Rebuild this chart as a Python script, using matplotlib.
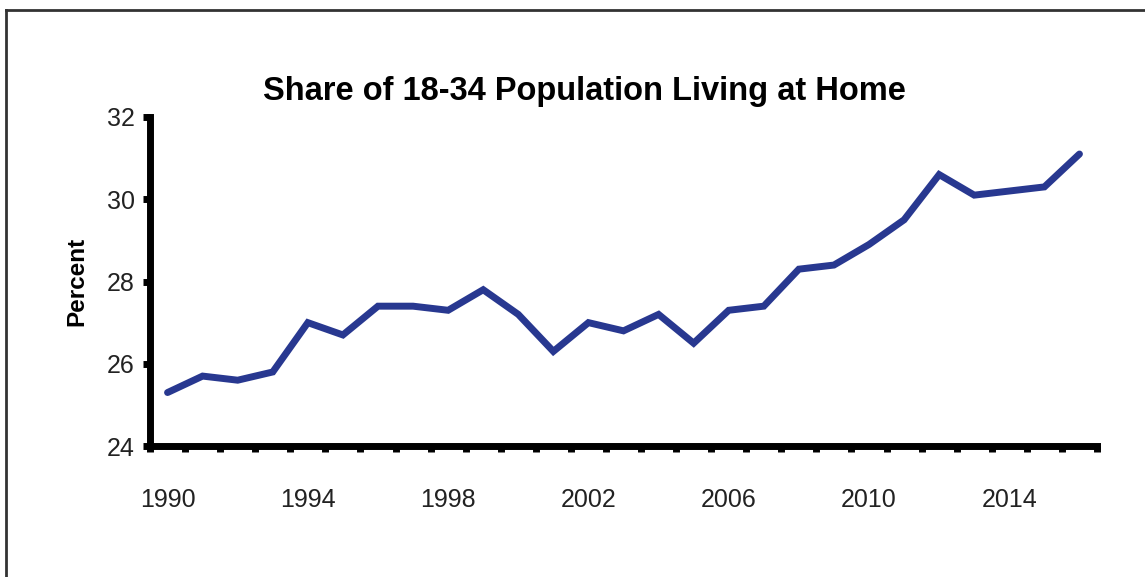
import matplotlib
matplotlib.use('Agg')
import matplotlib.pyplot as plt
import numpy as np
from matplotlib.lines import Line2D

plt.rcParams['font.family'] = ['Liberation Sans', 'DejaVu Sans']

YEARS = list(range(1990, 2017))
SHARE = [25.3, 25.7, 25.6, 25.8, 27.0, 26.7, 27.4, 27.4, 27.3, 27.8,
         27.2, 26.3, 27.0, 26.8, 27.2, 26.5, 27.3, 27.4, 28.3, 28.4,
         28.9, 29.5, 30.6, 30.1, 30.2, 30.3, 31.1]
XLABELS = [1990, 1994, 1998, 2002, 2006, 2010, 2014]
YTICKS = [24, 26, 28, 30, 32]

fig = plt.figure(figsize=(11.45, 5.77), dpi=100)
ax = fig.add_axes([150 / 1145, 1 - 446 / 577, (1097 - 150) / 1145, (446 - 117) / 577])

ax.plot(YEARS, SHARE, color='#283890', linewidth=5, solid_capstyle='round', solid_joinstyle='miter')

ax.set_xlim(1989.5, 2016.5)
ax.set_ylim(24, 32)
ax.set_yticks(YTICKS)
ax.set_xticks(XLABELS)
ax.set_xticklabels([str(y) for y in XLABELS])
ax.set_xticks(np.arange(1989.5, 2017, 1), minor=True)

for s in ['top', 'right']:
    ax.spines[s].set_visible(False)
for s in ['left', 'bottom']:
    ax.spines[s].set_linewidth(5)
    ax.spines[s].set_color('black')

ax.tick_params(axis='x', which='major', length=0, pad=30, labelsize=18, labelcolor='#222222')
ax.tick_params(axis='x', which='minor', length=4, width=5, direction='out')
ax.tick_params(axis='y', which='major', length=5, width=5, direction='out', pad=6, labelsize=18,
               labelcolor='#222222')

ax.set_ylabel('Percent', fontsize=17.5, fontweight='bold', labelpad=13)

fig.text(584 / 1145, 1 - 100 / 577, 'Share of 18-34 Population Living at Home',
         ha='center', va='baseline', fontsize=23.5, fontweight='bold')

# outer frame (left and top edges)
fig.add_artist(Line2D([6 / 1145, 6 / 1145], [0, 1 - 10 / 577], transform=fig.transFigure, color='#333333', linewidth=2))
fig.add_artist(Line2D([6 / 1145, 1], [1 - 10 / 577, 1 - 10 / 577], transform=fig.transFigure, color='#333333', linewidth=2))

fig.savefig('out.png', dpi=100)
